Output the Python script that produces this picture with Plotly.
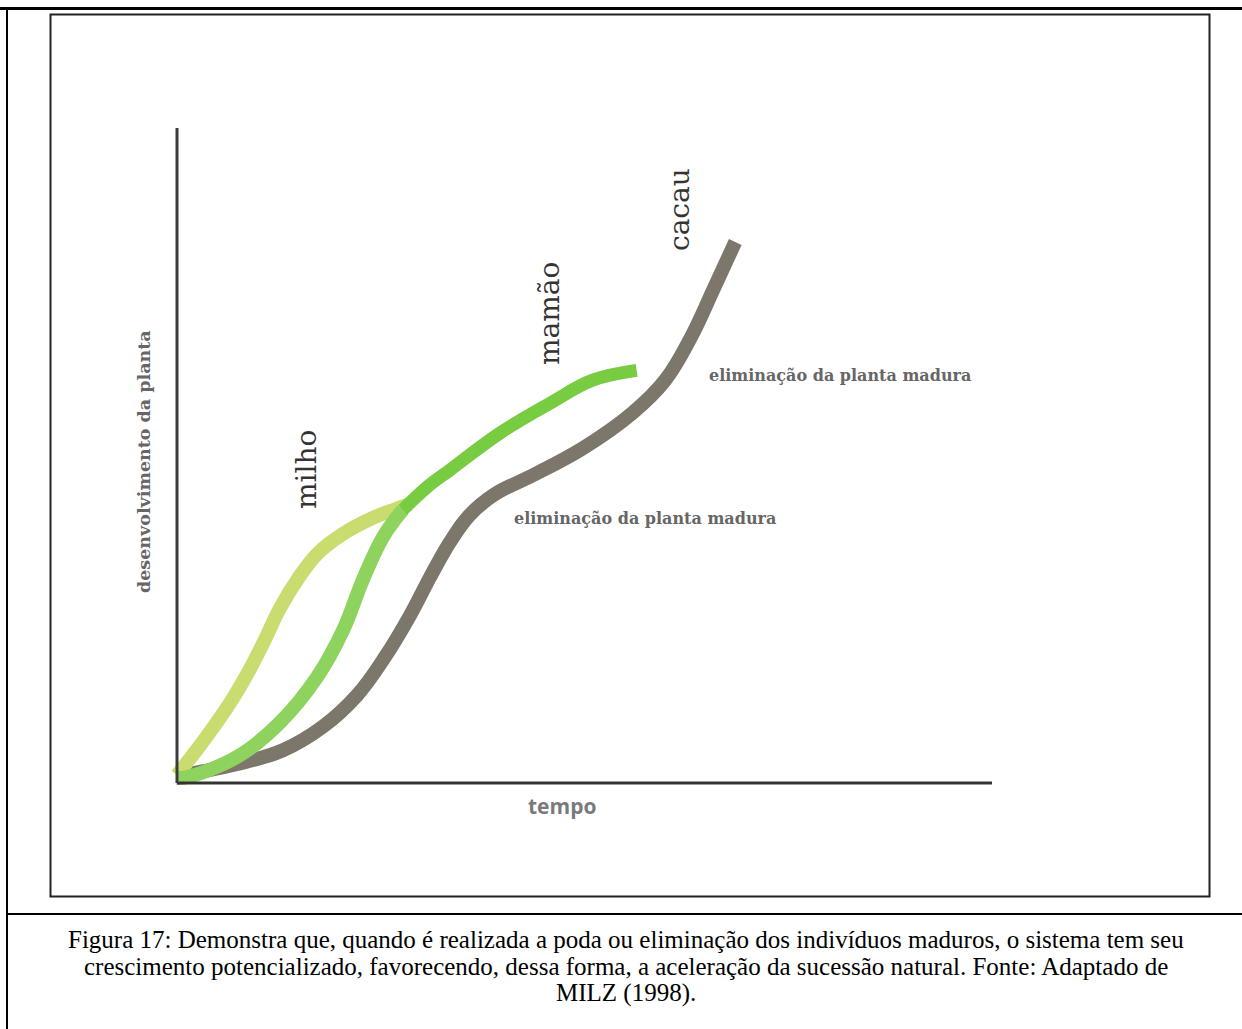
import plotly.graph_objects as go

W, H = 1242, 1029

# ---- data (tempo vs desenvolvimento da planta, arbitrary 0-100 units) ----
milho_x = [0, 2.2, 4.4, 6.5, 8.6, 10.6, 12.6, 14.9, 17.3, 20.3, 23.7, 26.8, 28.6]
milho_y = [1.2, 4.7, 8.4, 12.2, 16.6, 21.4, 26.6, 31.3, 35.1, 38.0, 40.3, 41.8, 42.6]

mamao_x = [0, 1.2, 7.4, 12.6, 17.2, 20.4, 22.8, 25.3, 27.7, 30.7, 33.5, 39.6, 45.8, 51.0, 56.4]
mamao_y = [0.8, 0.9, 4.0, 9.2, 16.2, 23.4, 31.0, 37.6, 41.7, 45.2, 47.8, 53.4, 58.0, 61.5, 63.0]

cacau_x = [0, 2.8, 7.4, 13.0, 17.9, 22.1, 25.5, 28.6, 31.0, 33.5, 35.9, 39.0, 43.7, 49.8, 55.9, 59.9, 63.0, 65.8, 68.5]
cacau_y = [1.1, 1.7, 2.9, 5.0, 8.6, 13.4, 19.2, 25.6, 31.3, 36.8, 40.9, 44.1, 47.0, 51.1, 56.5, 61.5, 67.9, 75.3, 82.6]

x_label = "tempo"
y_label = "desenvolvimento da planta"
crop_labels = ["milho", "mamão", "cacau"]
note_label = "eliminação da planta madura"
caption_lines = [
    "Figura 17: Demonstra que, quando é realizada a poda ou eliminação dos indivíduos maduros, o sistema tem seu",
    "crescimento potencializado, favorecendo, dessa forma, a aceleração da sucessão natural. Fonte: Adaptado de",
    "MILZ (1998).",
]

# ---- helpers (pixel -> paper) ----
def px(x):
    return x / W

def py(y):
    return 1 - y / H

# plot area in pixels, axis origin at (177,783), x=100 at 992, y=100 at 128
X0, X100, Y0, Y100 = 177, 992, 783, 128
PL, PR, PT, PB = 150, 1010, 110, 800
sx = (X100 - X0) / 100.0
sy = (Y0 - Y100) / 100.0
xr = [(PL - X0) / sx, (PR - X0) / sx]
yr = [(Y0 - PB) / sy, (Y0 - PT) / sy]

fig = go.Figure()

split = 8  # mamão changes tint after merging with milho
spl = dict(shape="spline", smoothing=1.1)
fig.add_trace(go.Scatter(x=cacau_x, y=cacau_y, mode="lines",
                         line=dict(color="#7d776b", width=14, **spl), hoverinfo="skip"))
fig.add_trace(go.Scatter(x=milho_x, y=milho_y, mode="lines",
                         line=dict(color="#c9dc6f", width=14, **spl), hoverinfo="skip"))
fig.add_trace(go.Scatter(x=mamao_x[:split + 1], y=mamao_y[:split + 1], mode="lines",
                         line=dict(color="#8dd35e", width=14, **spl), hoverinfo="skip"))
fig.add_trace(go.Scatter(x=mamao_x[split:], y=mamao_y[split:], mode="lines",
                         line=dict(color="#77cc42", width=13, **spl), hoverinfo="skip"))

shapes = [
    # axes
    dict(type="line", xref="x", yref="y", x0=0, y0=0, x1=100, y1=0,
         line=dict(color="#333333", width=3), layer="above"),
    dict(type="line", xref="x", yref="y", x0=0, y0=0, x1=0, y1=100,
         line=dict(color="#3c3c3c", width=3), layer="above"),
    # outer frame
    dict(type="line", xref="paper", yref="paper", x0=px(0), y0=py(8.5), x1=px(1242), y1=py(8.5),
         line=dict(color="black", width=3)),
    dict(type="line", xref="paper", yref="paper", x0=px(7), y0=py(7), x1=px(7), y1=py(1029),
         line=dict(color="black", width=2)),
    dict(type="line", xref="paper", yref="paper", x0=px(7), y0=py(914), x1=px(1242), y1=py(914),
         line=dict(color="black", width=2)),
    # inner frame
    dict(type="rect", xref="paper", yref="paper", x0=px(50.5), y0=py(14.5), x1=px(1209.5), y1=py(896.5),
         line=dict(color="#222222", width=2), fillcolor="rgba(0,0,0,0)"),
]

ann = []
def add_text(text, x, y, size, color, family, angle=0, bold=False):
    t = f"<b>{text}</b>" if bold else text
    ann.append(dict(text=t, x=px(x), y=py(y), xref="paper", yref="paper",
                    showarrow=False, textangle=angle, xanchor="center", yanchor="middle",
                    font=dict(size=size, color=color, family=family)))

add_text(y_label, 144, 462, 17.5, "#666666", "DejaVu Serif", angle=-90, bold=True)
add_text(x_label, 562, 806, 21, "#7a7a7a", "Open Sans", bold=True)
add_text(crop_labels[0], 306, 470, 28, "#333333", "DejaVu Serif", angle=-90)
add_text(crop_labels[1], 549, 314, 28, "#333333", "DejaVu Serif", angle=-90)
add_text(crop_labels[2], 679, 210, 28, "#333333", "DejaVu Serif", angle=-90)
add_text(note_label, 840, 375, 16, "#666666", "DejaVu Serif", bold=True)
add_text(note_label, 645, 518, 16, "#666666", "DejaVu Serif", bold=True)

for i, line in enumerate(caption_lines):
    add_text(line, 626, 939 + 27 * i, 25, "#000000", "Liberation Serif")

fig.update_layout(
    width=W, height=H,
    margin=dict(l=0, r=0, t=0, b=0),
    paper_bgcolor="white", plot_bgcolor="white",
    showlegend=False,
    xaxis=dict(range=xr, domain=[px(PL), px(PR)], visible=False, fixedrange=True),
    yaxis=dict(range=yr, domain=[py(PB), py(PT)], visible=False, fixedrange=True),
    shapes=shapes,
    annotations=ann,
)

fig.write_html("out.html", config={"displayModeBar": False},
               post_script="document.body.style.margin='0px';document.body.style.overflow='hidden';")
